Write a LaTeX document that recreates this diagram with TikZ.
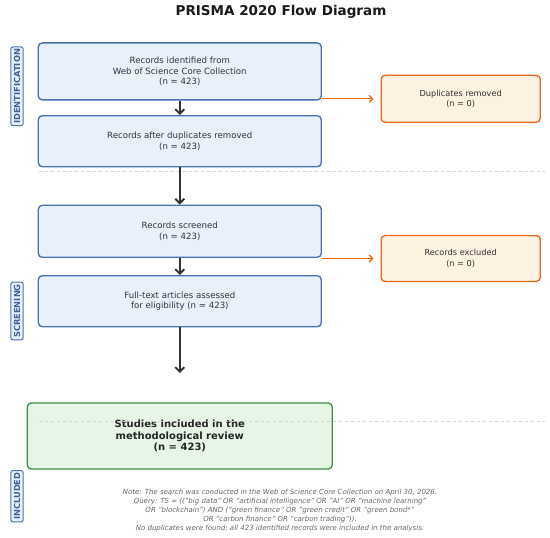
\documentclass[tikz,border=0pt]{standalone}
\usepackage{fontspec}
\setmainfont{DejaVu Sans}
\usetikzlibrary{arrows.meta,positioning,calc}
\definecolor{flowblue}{HTML}{4A72B0}
\definecolor{flowfill}{HTML}{E8F0FC}
\definecolor{phaseblue}{HTML}{3D5F9B}
\definecolor{outorange}{HTML}{E8681E}
\definecolor{outfill}{HTML}{FDF1DF}
\definecolor{inclgreen}{HTML}{3E8E41}
\definecolor{inclfill}{HTML}{E7F5E6}
\definecolor{textgray}{HTML}{333333}
\definecolor{arrowgray}{HTML}{333333}
\definecolor{notegray}{HTML}{666666}

\begin{document}
\begin{tikzpicture}[x=1pt, y=-1pt,
    flow/.style={rectangle, rounded corners=4pt, draw=flowblue, line width=1.35pt, fill=flowfill, text=textgray, minimum width=283pt, align=center, font=\fontsize{8.6}{10.4}\selectfont},
    outbox/.style={rectangle, rounded corners=4pt, draw=outorange, line width=1.35pt, fill=outfill, text=textgray, minimum width=159pt, minimum height=47pt, align=center, font=\fontsize{8.2}{10.2}\selectfont},
    phase/.style={rectangle, rounded corners=2pt, draw=flowblue, line width=1pt, fill=flowfill, text=phaseblue, rotate=90, font=\bfseries\fontsize{8.3}{9}\selectfont, inner xsep=2pt, inner ysep=3pt},
    mainarrow/.style={-{Straight Barb[length=4.5pt,width=9pt]}, draw=arrowgray, line width=1.9pt},
    sidearrow/.style={-{Straight Barb[length=3.5pt,width=7pt]}, draw=outorange, line width=1.3pt},
    divider/.style={draw=gray!35, dashed, line width=0.6pt}]
    \useasboundingbox (0,0) rectangle (550,538);

    \node[font=\bfseries\fontsize{13.5}{16}\selectfont, text=black!90] (title) at (281,11.5) {PRISMA 2020 Flow Diagram};

    % left column
    \node[flow, minimum height=57pt] (ident) at (179.8,71.4) {Records identified from\\Web of Science Core Collection\\(n = 423)};
    \node[flow, minimum height=51pt] (dedup) at (179.8,141.2) {Records after duplicates removed\\(n = 423)};
    \node[flow, minimum height=52pt] (screen) at (179.8,231.3) {Records screened\\(n = 423)};
    \node[flow, minimum height=51pt] (fulltext) at (179.8,301.2) {Full-text articles assessed\\for eligibility (n = 423)};
    \node[flow, draw=inclgreen, fill=inclfill, minimum width=305pt, minimum height=66pt, text=black!85, font=\bfseries\fontsize{10}{11.3}\selectfont] (incl) at (179.8,436) {Studies included in the\\methodological review\\(n = 423)};

    % right column
    \node[outbox] (dups) at (460.7,98.8) {Duplicates removed\\(n = 0)};
    \node[outbox, minimum height=46pt] (excl) at (460.7,258.5) {Records excluded\\(n = 0)};

    % phase dividers
    \draw[divider] (38.8,171.7) -- (544.8,171.7);
    \draw[divider] (38.8,421) -- (544.8,421);

    \node[phase] (tagid) at (17,86.3) {IDENTIFICATION};
    \node[phase] (tagscr) at (17,311) {SCREENING};
    \node[phase] (taginc) at (17,496.2) {INCLUDED};

    \coordinate (gapend) at (179.8,373);
    \draw[mainarrow] (ident) -- (dedup);
    \draw[mainarrow] (dedup) -- (screen);
    \draw[mainarrow] (screen) -- (fulltext);
    \draw[mainarrow] (fulltext) -- (gapend);
    \draw[sidearrow] (ident.east |- dups.west) -- ([xshift=-7pt]dups.west);
    \draw[sidearrow] (screen.east |- excl.west) -- ([xshift=-7pt]excl.west);

    \node[font=\itshape\fontsize{7}{9}\selectfont, text=notegray, align=center] (note) at (280,510.7) {Note: The search was conducted in the Web of Science Core Collection on April 30, 2026.\\Query: TS = (("big data" OR "artificial intelligence" OR "AI" OR "machine learning"\\OR "blockchain") AND ("green finance" OR "green credit" OR "green bond*"\\OR "carbon finance" OR "carbon trading")).\\No duplicates were found; all 423 identified records were included in the analysis.};
\end{tikzpicture}
\end{document}
